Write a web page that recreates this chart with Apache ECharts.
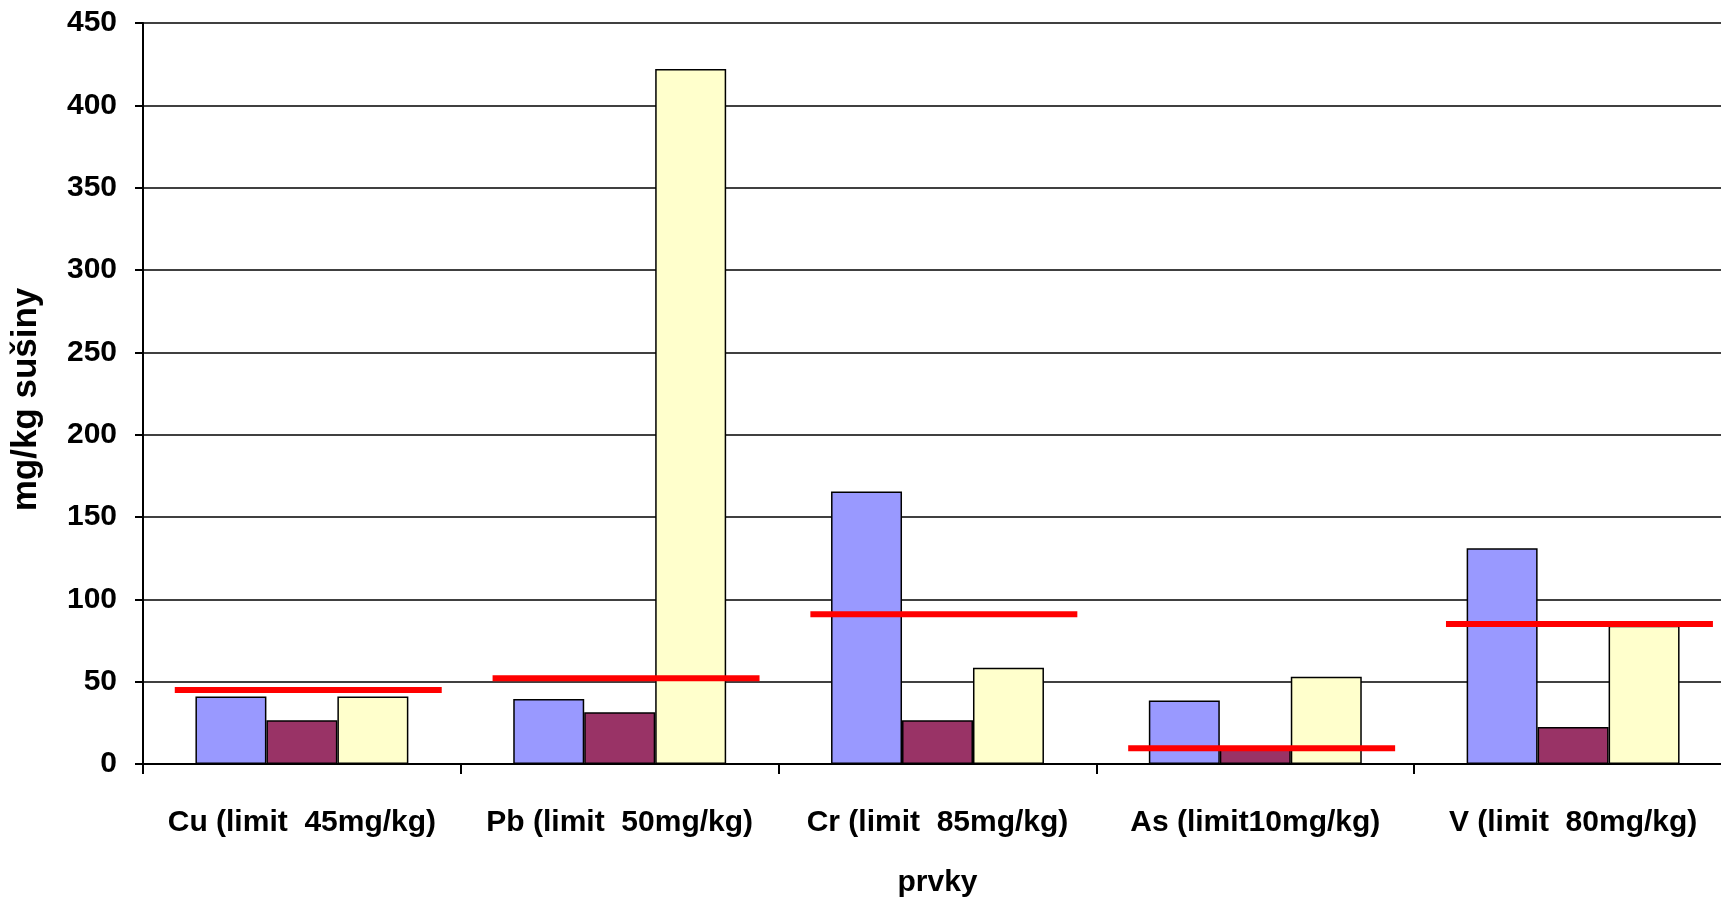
<!DOCTYPE html>
<html>
<head>
<meta charset="utf-8">
<script src="https://cdn.jsdelivr.net/npm/echarts@6/dist/echarts.min.js"></script>
<style>
html,body{margin:0;padding:0;background:#fff;}
#wrap{position:relative;width:1721px;height:899px;overflow:hidden;}
#chart{position:absolute;left:0;top:0;width:1732px;height:899px;}
</style>
</head>
<body>
<div id="wrap"><div id="chart"></div></div>
<script>
var categories = ['Cu (limit  45mg/kg)', 'Pb (limit  50mg/kg)', 'Cr (limit  85mg/kg)', 'As (limit10mg/kg)', 'V (limit  80mg/kg)'];
var series1 = [41, 39.5, 165.5, 38.5, 131];
var series2 = [26.5, 31.5, 26.5, 9, 22.5];
var series3 = [41, 422, 58.5, 53, 84];
var limitLine = [45, 52, 91, 9.5, 85];
var yTicks = { min: 0, max: 450, interval: 50 };

var FONT = '"Liberation Sans", Arial, sans-serif';
var chart = echarts.init(document.getElementById('chart'));

function barSeries(name, data, color) {
  return {
    name: name,
    type: 'bar',
    data: data,
    barGap: '0%',
    barCategoryGap: '33%',
    itemStyle: { color: color, borderColor: '#000', borderWidth: 1.5 },
    z: 2
  };
}

chart.setOption({
  animation: false,
  backgroundColor: '#fff',
  grid: { left: 143, top: 23, bottom: 135, right: 0, containLabel: false, outerBoundsMode: 'none' },
  xAxis: {
    type: 'category',
    data: categories,
    boundaryGap: true,
    name: 'prvky',
    nameLocation: 'middle',
    nameGap: 104,
    nameTextStyle: { fontFamily: FONT, fontWeight: 'bold', fontSize: 30, color: '#000' },
    axisLine: { lineStyle: { color: '#000', width: 2 } },
    axisTick: { show: true, length: 10, alignWithLabel: false, lineStyle: { color: '#000', width: 2 } },
    axisLabel: { interval: 0, margin: 44, fontFamily: FONT, fontWeight: 'bold', fontSize: 30, color: '#000' },
    splitLine: { show: false }
  },
  yAxis: {
    type: 'value',
    min: yTicks.min,
    max: yTicks.max,
    interval: yTicks.interval,
    name: 'mg/kg sušiny',
    nameLocation: 'middle',
    nameGap: 99,
    nameRotate: 90,
    nameTextStyle: { fontFamily: FONT, fontWeight: 'bold', fontSize: 35, color: '#000', padding: [0, 12, 0, 0] },
    axisLine: { show: true, lineStyle: { color: '#000', width: 2 } },
    axisTick: { show: true, length: 8, lineStyle: { color: '#000', width: 2 } },
    axisLabel: { margin: 26, fontFamily: FONT, fontWeight: 'bold', fontSize: 30, color: '#000' },
    splitLine: { show: true, lineStyle: { color: '#000', width: 1.5 } }
  },
  series: [
    barSeries('1', series1, '#9999FF'),
    barSeries('2', series2, '#993366'),
    barSeries('3', series3, '#FFFFCC'),
    {
      name: 'limit',
      type: 'custom',
      z: 10,
      clip: false,
      data: limitLine.map(function (v, i) { return [i, v]; }),
      renderItem: function (params, api) {
        var c = api.coord([api.value(0), api.value(1)]);
        var w = api.size([1, 0])[0];
        return {
          type: 'line',
          shape: { x1: c[0] - w * 0.4, y1: c[1], x2: c[0] + w * 0.44, y2: c[1] },
          style: { stroke: '#FF0000', lineWidth: 6 }
        };
      }
    }
  ]
});
</script>
</body>
</html>
